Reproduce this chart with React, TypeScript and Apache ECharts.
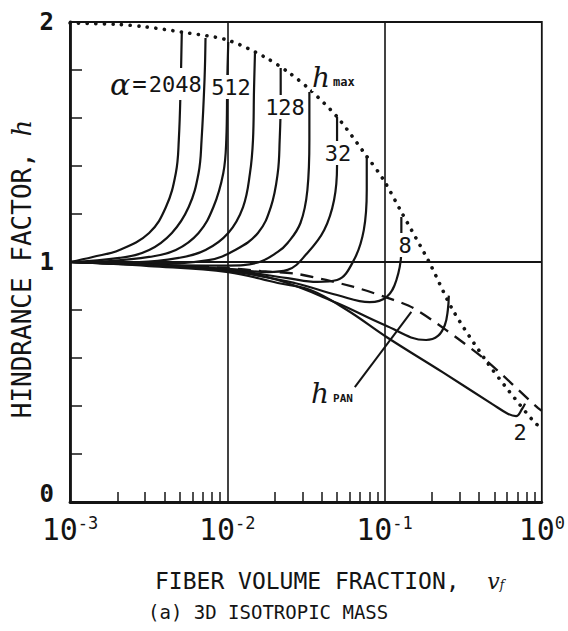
import React, { useEffect, useRef } from 'react';
import * as echarts from 'echarts';

// ---- axis furniture ----
const xMin = 0.001;
const xMax = 1;
const yMin = 0;
const yMax = 2;
const yLabelValues = [0, 1, 2];
const gridLinesX = [0.01, 0.1];
const gridLinesY = [1];
const decadeStarts = [0.001, 0.01, 0.1];
const minorMultipliers = [2, 3, 4, 5, 6, 7, 8, 9];

// ---- data: [fiber volume fraction, hindrance factor] ----
const hMax: number[][] = [
  [0.001, 1.996], [0.002, 1.99], [0.003, 1.98], [0.00514, 1.958], [0.01, 1.925],
  [0.0173, 1.854], [0.0249, 1.787], [0.0337, 1.717], [0.05, 1.604], [0.0771, 1.44],
  [0.0986, 1.342], [0.128, 1.208], [0.192, 1.0], [0.2716, 0.8], [0.438, 0.592],
  [0.61, 0.467], [0.904, 0.33], [1.0, 0.31],
];

const hPan: number[][] = [
  [0.001, 1.0], [0.01, 0.975], [0.0164, 0.962], [0.028, 0.95], [0.0638, 0.896],
  [0.114, 0.842], [0.1526, 0.808], [0.2455, 0.717], [0.438, 0.592], [0.944, 0.392],
  [1.0, 0.38],
];

const alpha2048: number[][] = [
  [0.001, 1.0], [0.001395, 1.021], [0.002063, 1.05], [0.003185, 1.121], [0.004074, 1.229],
  [0.00471, 1.371], [0.004918, 1.508], [0.005063, 1.758], [0.005137, 1.954],
];
const alpha1024: number[][] = [
  [0.001, 1.0], [0.002063, 1.017], [0.003185, 1.05], [0.004444, 1.121], [0.005685, 1.229],
  [0.006571, 1.371], [0.006863, 1.508], [0.007167, 1.758], [0.007272, 1.933],
];
const alpha512: number[][] = [
  [0.001, 1.0], [0.001786, 1.004], [0.003185, 1.021], [0.00471, 1.05], [0.006571, 1.121],
  [0.008164, 1.229], [0.009436, 1.371], [0.009856, 1.508], [0.01, 1.758], [0.010146, 1.917],
];
const alpha256: number[][] = [
  [0.001, 1.0], [0.002755, 1.0], [0.004918, 1.017], [0.007272, 1.05], [0.010146, 1.121],
  [0.0126, 1.229], [0.01395, 1.371], [0.01457, 1.508], [0.01479, 1.717], [0.015, 1.871],
];
const alpha128: number[][] = [
  [0.001, 1.0], [0.003185, 0.992], [0.007594, 1.008], [0.01123, 1.05], [0.01567, 1.121],
  [0.01892, 1.229], [0.02094, 1.371], [0.02154, 1.508], [0.02186, 1.675], [0.02186, 1.808],
];
const alpha64: number[][] = [
  [0.001, 1.0], [0.003185, 0.988], [0.010146, 0.985], [0.01567, 0.998], [0.02094, 1.042],
  [0.02419, 1.079], [0.0292, 1.1625], [0.03232, 1.3], [0.03327, 1.508], [0.03327, 1.708],
];
const alpha32: number[][] = [
  [0.001, 1.0], [0.003185, 0.988], [0.010146, 0.971], [0.01811, 0.958], [0.02419, 0.967],
  [0.03232, 1.0375], [0.04134, 1.133], [0.04776, 1.258], [0.04989, 1.404], [0.04989, 1.604],
];
const alpha16: number[][] = [
  [0.001, 1.0], [0.003185, 0.988], [0.010146, 0.967], [0.02419, 0.933], [0.03735, 0.917],
  [0.04989, 0.925], [0.06383, 1.008], [0.07379, 1.133], [0.07706, 1.3], [0.07706, 1.4375],
];
const alpha8: number[][] = [
  [0.001, 1.0], [0.003185, 0.988], [0.010146, 0.963], [0.02678, 0.9125], [0.04989, 0.8625],
  [0.08045, 0.833], [0.1029, 0.854], [0.119, 0.925], [0.1279, 1.05], [0.1279, 1.1875],
];
const alpha4: number[][] = [
  [0.001, 1.0], [0.003185, 0.988], [0.010146, 0.963], [0.02094, 0.925], [0.04989, 0.829],
  [0.1, 0.7375], [0.1837, 0.675], [0.2186, 0.692], [0.2418, 0.7375], [0.2526, 0.8], [0.2563, 0.86],
];
const alpha2: number[][] = [
  [0.001, 1.0], [0.003185, 0.983], [0.010146, 0.958], [0.02094, 0.9125], [0.03376, 0.883],
  [0.05768, 0.8], [0.1029, 0.6875], [0.235, 0.54], [0.4847, 0.408], [0.6111, 0.367],
  [0.6863, 0.358], [0.7485, 0.3875], [0.7819, 0.41],
];

const alphaNames = ['2048', '1024', '512', '256', '128', '64', '32', '16', '8', '4', '2'];
const alphaCurves = [alpha2048, alpha1024, alpha512, alpha256, alpha128, alpha64, alpha32, alpha16, alpha8, alpha4, alpha2];

// h_PAN arrow (tail -> head), in data coordinates
const arrowTail = [0.0647, 0.479];
const arrowHead = [0.148, 0.792];

const INK = '#141414';
const MONO = '"DejaVu Sans Mono", "Liberation Mono", monospace';
const SERIF = '"DejaVu Serif", "Liberation Serif", serif';

export default function App() {
  const ref = useRef<HTMLDivElement>(null);

  useEffect(() => {
    const chart = echarts.init(ref.current as HTMLDivElement, null, { renderer: 'svg' });

    const minorTicks: any[] = [];
    decadeStarts.forEach((d) => {
      minorMultipliers.forEach((m) => {
        const v = d * m;
        minorTicks.push([
          { coord: [v, 0], lineStyle: { color: INK, width: 1.5, type: 'solid' } },
          { coord: [v, 0.042] },
        ]);
      });
    });

    const curveSeries = alphaCurves.map((data, i) => ({
      name: 'alpha ' + alphaNames[i],
      type: 'line',
      data,
      smooth: 0.4,
      symbol: 'none',
      lineStyle: { color: INK, width: 2.2 },
      z: 3,
      silent: true,
    }));

    const textBase = (x: number, y: number, text: string, extra: any = {}) => ({
      type: 'text',
      x,
      y,
      z: 100,
      style: {
        text,
        fill: INK,
        fontFamily: MONO,
        fontSize: 22,
        align: 'center',
        textAlign: 'center',
        verticalAlign: 'middle',
        textVerticalAlign: 'middle',
        ...extra,
      },
    });

    const option: any = {
      animation: false,
      backgroundColor: '#fff',
      grid: {
        left: 70,
        right: 21,
        top: 22,
        bottom: 129,
        show: true,
        borderColor: INK,
        borderWidth: 1.8,
      },
      xAxis: {
        type: 'log',
        logBase: 10,
        min: xMin,
        max: xMax,
        axisLine: { show: true, lineStyle: { color: INK, width: 2.8 } },
        axisTick: { show: false },
        splitLine: { show: false },
        axisLabel: {
          margin: 12,
          color: INK,
          formatter: (v: number) => {
            const e = Math.round(Math.log10(v));
            return '{b|10}{s|' + (e === 0 ? '0' : '-' + Math.abs(e)) + '}';
          },
          rich: {
            b: { fontFamily: MONO, fontSize: 30, lineHeight: 30, color: INK },
            s: { fontFamily: MONO, fontSize: 17, lineHeight: 8, verticalAlign: 'top', color: INK },
          },
        },
      },
      yAxis: {
        type: 'value',
        min: yMin,
        max: yMax,
        interval: 0.2,
        axisLine: { show: true, lineStyle: { color: INK, width: 2.8 } },
        axisTick: { show: true, inside: true, length: 12, lineStyle: { color: INK, width: 1.5 } },
        splitLine: { show: false },
        axisLabel: {
          margin: 16,
          color: INK,
          fontFamily: MONO,
          fontSize: 24,
          fontWeight: 'bold',
          formatter: (v: number) => {
            const r = Math.round(v * 10) / 10;
            if (!yLabelValues.includes(r)) return '';
            return r === 0 ? '{z|0}' : String(r);
          },
          rich: {
            z: { fontFamily: MONO, fontSize: 24, fontWeight: 'bold', padding: [0, 0, 16, 0], color: INK },
          },
        },
      },
      series: [
        ...curveSeries,
        {
          name: 'h max',
          type: 'line',
          data: hMax,
          smooth: 0.3,
          symbol: 'none',
          lineStyle: { color: INK, width: 3.6, type: [0.1, 8.5], cap: 'round' },
          z: 4,
          silent: true,
          markLine: {
            silent: true,
            symbol: ['none', 'none'],
            label: { show: false },
            lineStyle: { color: INK, width: 1.6, type: 'solid' },
            data: [
              ...gridLinesX.map((v) => ({ xAxis: v })),
              ...gridLinesY.map((v) => ({ yAxis: v, lineStyle: { color: INK, width: 2.2, type: 'solid' } })),
              ...minorTicks,
            ],
          },
        },
        {
          name: 'h PAN',
          type: 'line',
          data: hPan,
          smooth: 0.3,
          symbol: 'none',
          lineStyle: { color: INK, width: 2.3, type: [13, 8] },
          z: 4,
          silent: true,
          markLine: {
            silent: true,
            symbol: ['none', 'arrow'],
            symbolSize: [0, 11],
            label: { show: false },
            lineStyle: { color: INK, width: 2, type: 'solid' },
            data: [[{ coord: arrowTail }, { coord: arrowHead }]],
          },
        },
      ],
      graphic: [
        // alpha labels
        {
          type: 'text',
          x: 110,
          y: 84,
          z: 100,
          style: {
            text: '{a|α}{e|=}{n|2048}',
            fill: INK,
            align: 'left',
            textAlign: 'left',
            verticalAlign: 'middle',
            textVerticalAlign: 'middle',
            backgroundColor: '#fff',
            padding: [1, 0, 1, 0],
            rich: {
              a: { fontFamily: SERIF, fontStyle: 'italic', fontSize: 30, fill: INK, color: INK },
              e: { fontFamily: MONO, fontSize: 24, fill: INK, color: INK, padding: [0, 2, 0, 2] },
              n: { fontFamily: MONO, fontSize: 22, fill: INK, color: INK },
            },
          },
        },
        textBase(231, 87, '512', { backgroundColor: '#fff', padding: [1, 0, 1, 0] }),
        textBase(285, 107, '128', { backgroundColor: '#fff', padding: [1, 0, 1, 0] }),
        textBase(338, 153, '32', { backgroundColor: '#fff', padding: [1, 0, 1, 0] }),
        textBase(405, 245, '8', { backgroundColor: '#fff', padding: [1, 0, 1, 0] }),
        textBase(520, 432, '2'),
        // h max
        {
          type: 'text',
          x: 312,
          y: 77,
          z: 100,
          style: {
            text: '{h|h}{m|max}',
            align: 'left',
            textAlign: 'left',
            verticalAlign: 'middle',
            textVerticalAlign: 'middle',
            backgroundColor: '#fff',
            rich: {
              h: { fontFamily: SERIF, fontStyle: 'italic', fontSize: 28, fill: INK, color: INK },
              m: { fontFamily: MONO, fontSize: 12, fontWeight: 'bold', fill: INK, color: INK, padding: [10, 0, 0, 3] },
            },
          },
        },
        // h PAN
        {
          type: 'text',
          x: 311,
          y: 393,
          z: 100,
          style: {
            text: '{h|h}{m|PAN}',
            align: 'left',
            textAlign: 'left',
            verticalAlign: 'middle',
            textVerticalAlign: 'middle',
            rich: {
              h: { fontFamily: SERIF, fontStyle: 'italic', fontSize: 28, fill: INK, color: INK },
              m: { fontFamily: MONO, fontSize: 11, fontWeight: 'bold', fill: INK, color: INK, padding: [10, 0, 0, 4] },
            },
          },
        },
        // y axis name
        {
          type: 'text',
          x: 22,
          y: 269,
          rotation: Math.PI / 2,
          z: 100,
          style: {
            text: '{n|HINDRANCE FACTOR, }{h|h}',
            align: 'center',
            textAlign: 'center',
            verticalAlign: 'middle',
            textVerticalAlign: 'middle',
            rich: {
              n: { fontFamily: MONO, fontSize: 26, fill: INK, color: INK },
              h: { fontFamily: SERIF, fontStyle: 'italic', fontSize: 26, fill: INK, color: INK },
            },
          },
        },
        // x axis name
        {
          type: 'text',
          x: 155,
          y: 581,
          z: 100,
          style: {
            text: '{n|FIBER VOLUME FRACTION,  }{v|v}{f|f}',
            align: 'left',
            textAlign: 'left',
            verticalAlign: 'middle',
            textVerticalAlign: 'middle',
            rich: {
              n: { fontFamily: MONO, fontSize: 23, fill: INK, color: INK },
              v: { fontFamily: SERIF, fontStyle: 'italic', fontSize: 22, fill: INK, color: INK },
              f: { fontFamily: SERIF, fontStyle: 'italic', fontSize: 12, fill: INK, color: INK, padding: [8, 0, 0, 0] },
            },
          },
        },
        // caption
        textBase(148, 612, '(a) 3D ISOTROPIC MASS', { fontSize: 19, align: 'left', textAlign: 'left' }),
      ],
    };

    chart.setOption(option);
    return () => chart.dispose();
  }, []);

  return <div ref={ref} style={{ position: 'fixed', left: 0, top: 0, width: 568, height: 631 }} />;
}
